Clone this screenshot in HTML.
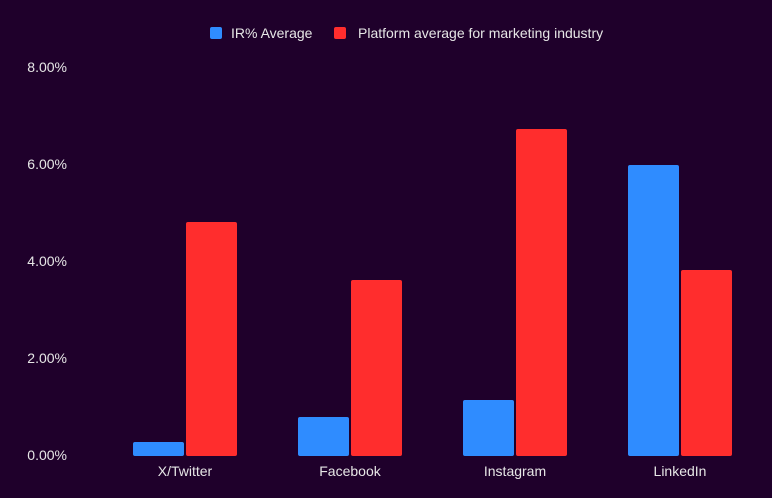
<!DOCTYPE html>
<html><head><style>
html,body{margin:0;padding:0;background:#1f002b;}
svg{display:block;}
text{font-family:"Liberation Sans",Arial,sans-serif;fill:#e6e6e6;font-size:14px;}
</style></head><body>
<svg width="772" height="498" viewBox="0 0 772 498">
<rect width="772" height="498" fill="#1f002b"/>
<rect x="210" y="27" width="12" height="12" rx="2" fill="#2f8cff"/>
<text x="231" y="38">IR% Average</text>
<rect x="334" y="27" width="12" height="12" rx="2" fill="#ff2d2d"/>
<text x="358" y="38">Platform average for marketing industry</text>
<g text-anchor="end">
<text x="67" y="72">8.00%</text>
<text x="67" y="169">6.00%</text>
<text x="67" y="266">4.00%</text>
<text x="67" y="363">2.00%</text>
<text x="67" y="460">0.00%</text>
</g>
<g fill="#2f8cff">
<rect x="133" y="442" width="51" height="14" rx="2"/>
<rect x="298" y="417" width="51" height="39" rx="2"/>
<rect x="463" y="400" width="51" height="56" rx="2"/>
<rect x="628" y="165" width="51" height="291" rx="2"/>
</g>
<g fill="#ff2d2d">
<rect x="186" y="222" width="51" height="234" rx="2"/>
<rect x="351" y="280" width="51" height="176" rx="2"/>
<rect x="516" y="129" width="51" height="327" rx="2"/>
<rect x="681" y="270" width="51" height="186" rx="2"/>
</g>
<g text-anchor="middle">
<text x="185" y="476">X/Twitter</text>
<text x="350" y="476">Facebook</text>
<text x="515" y="476">Instagram</text>
<text x="680" y="476">LinkedIn</text>
</g>
</svg>
</body></html>
